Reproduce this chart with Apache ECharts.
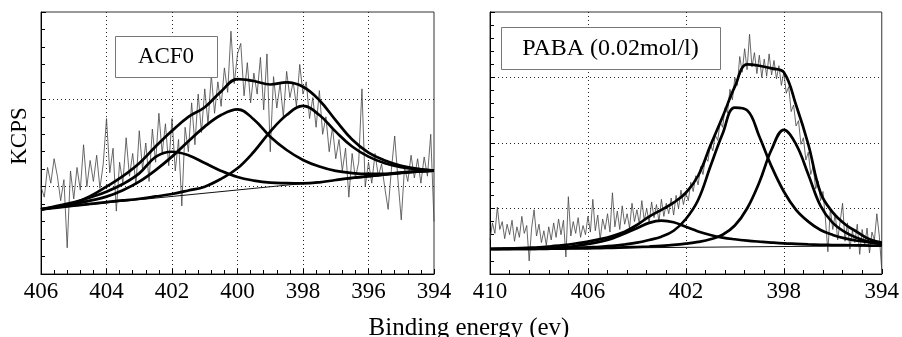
<!DOCTYPE html>
<html><head><meta charset="utf-8">
<script src="https://cdn.jsdelivr.net/npm/echarts@6/dist/echarts.min.js"></script>
<style>html,body{margin:0;padding:0;background:#fff}#c{width:902px;height:337px}</style>
</head><body><div id="c"></div>
<script>
const FONT = '"Liberation Serif","Times New Roman",serif';

// ---------- Left panel: ACF0 (x from 406 down to 394) ----------
const acfTicks = [406, 404, 402, 400, 398, 396, 394];
const acfRawStart = 406, acfRawStep = -0.1;
const acfRaw = [5.0,4.4,6.1,5.2,6.6,5.6,4.2,5.4,1.5,5.9,
  4.3,6.1,4.8,7.4,5.0,6.5,5.3,6.8,4.9,6.3,
  8.9,5.8,7.2,3.6,6.4,5.2,7.8,5.6,6.9,5.1,
  8.2,6.0,7.5,5.3,8.3,6.4,9.2,6.9,8.6,6.2,
  8.9,5.9,7.7,3.9,8.4,7.0,9.8,7.4,10.3,8.1,
  10.6,8.6,11.4,9.2,11.0,9.6,11.8,10.4,13.9,10.9,
  12.6,13.2,10.2,12.1,9.8,11.5,10.3,12.4,9.4,12.6,
  7.0,11.3,9.5,10.9,9.0,11.6,10.1,11.0,9.6,12.0,
  10.3,11.0,8.9,10.1,8.4,10.5,8.0,9.0,7.0,8.4,
  6.6,7.7,5.9,7.2,4.4,6.9,5.5,6.4,10.6,5.0,
  6.4,5.2,6.9,5.6,6.3,4.9,3.7,6.0,7.9,5.4,
  3.1,6.1,5.3,6.8,5.5,6.6,5.2,6.7,5.6,8.0,3.0];
const acfFitStart = 406, acfFitStep = -0.5;
const acfEnvelope = [3.70,3.85,4.05,4.45,5.0,5.6,6.34,7.3,8.2,9.0,9.55,10.45,11.16,11.05,10.85,10.97,10.72,9.95,8.8,7.7,6.95,6.5,6.2,6.02,5.92];
const acfPeak402 = [3.70,3.9,4.1,4.38,4.71,5.15,5.76,6.7,7.0,6.8,6.35,5.9,5.55,5.35,5.23,5.2,5.19,5.25,5.38,5.5,5.6,5.7,5.8,5.87,5.92];
const acfPeak400 = [3.70,3.85,4.0,4.2,4.43,4.8,5.29,5.95,6.72,7.6,8.44,9.1,9.43,8.85,7.86,7.1,6.53,6.15,5.9,5.78,5.73,5.74,5.8,5.86,5.92];
const acfPeak398 = [3.70,3.80,3.91,4.01,4.12,4.21,4.31,4.44,4.58,4.78,5.0,5.45,6.05,7.0,8.15,9.1,9.62,9.1,8.15,7.3,6.72,6.34,6.12,6.0,5.92];
const acfBaseline = [[406, 3.70], [394, 5.92]];

// ---------- Right panel: PABA (x from 410 down to 394) ----------
const pabaTicks = [410, 406, 402, 398, 394];
const pabaRawStart = 410, pabaRawStep = -0.1;
const pabaRaw = [2.6,3.9,3.1,5.1,3.4,4.0,2.7,3.8,3.0,4.1,
  2.5,3.6,2.8,4.4,3.1,3.7,1.0,3.5,4.9,2.9,
  3.8,2.4,3.3,2.2,3.6,2.6,3.9,2.8,4.2,3.0,
  4.1,1.3,5.9,2.9,4.0,3.1,4.3,2.8,3.7,3.0,
  4.4,3.2,5.7,3.3,4.5,2.6,4.2,3.4,4.6,3.2,
  6.2,3.6,4.8,3.4,5.2,3.8,4.6,3.5,5.4,4.0,
  4.9,3.8,5.6,4.1,5.0,3.9,5.5,4.3,5.3,4.0,
  5.7,4.4,5.4,4.6,5.8,4.5,6.0,5.0,6.4,5.3,
  6.2,5.6,7.0,6.3,7.5,6.8,8.2,7.6,8.9,8.6,
  9.9,9.4,10.6,10.2,11.6,11.2,12.7,12.3,14.1,13.3,
  15.0,14.4,16.6,15.4,17.2,15.6,18.3,15.8,16.9,15.3,
  16.7,15.0,16.4,15.1,16.8,15.2,16.3,14.9,15.9,14.4,
  15.4,13.8,14.3,12.4,12.9,11.3,11.7,9.9,10.4,8.7,
  9.3,7.6,8.2,6.5,7.1,5.6,6.3,4.2,1.7,5.0,
  3.4,4.6,2.6,4.0,5.4,2.5,3.9,1.9,3.3,2.4,
  3.8,1.5,3.4,2.2,3.5,1.6,3.2,2.6,4.6,2.9,0.3];
const pabaFitStart = 410, pabaFitStep = -0.5;
const pabaEnvelope = [1.91,1.93,1.96,2.0,2.04,2.12,2.21,2.33,2.47,2.66,2.9,3.23,3.74,4.38,4.9,5.45,6.2,7.5,9.8,12.0,14.3,16.0,15.9,15.7,15.4,12.9,9.9,6.2,4.7,3.8,3.2,2.65,2.4];
const pabaPeak403 = [1.91,1.92,1.93,1.94,1.96,2.0,2.04,2.14,2.29,2.47,2.72,3.1,3.49,3.9,4.07,3.95,3.6,3.25,2.98,2.78,2.65,2.55,2.47,2.4,2.34,2.3,2.26,2.23,2.21,2.2,2.19,2.17,2.16];
const pabaPeak400 = [1.91,1.91,1.92,1.92,1.93,1.94,1.96,2.0,2.04,2.08,2.14,2.25,2.39,2.6,2.85,3.3,4.2,5.65,8.2,10.7,12.7,12.5,10.5,8.2,6.3,4.9,4.0,3.36,2.98,2.72,2.54,2.42,2.32];
const pabaPeak398 = [1.91,1.91,1.91,1.92,1.92,1.93,1.94,1.95,1.96,1.98,2.0,2.03,2.06,2.1,2.15,2.22,2.32,2.45,2.65,3.0,3.7,5.0,7.0,9.5,11.0,9.9,7.6,5.2,3.9,3.2,2.75,2.45,2.3];
const pabaBaseline = [[410, 1.91], [394, 2.16]];

function pairs(start, step, ys) {
  return ys.map((v, i) => [+(start + step * i).toFixed(3), v]);
}

const chart = echarts.init(document.getElementById('c'), null, {renderer: 'canvas'});

function xAxisCfg(gi, min, max, interval) {
  return {
    type: 'value', gridIndex: gi, min: min, max: max, interval: interval, inverse: true,
    axisLine: {show: true, onZero: false, lineStyle: {color: '#000', width: 1}},
    axisTick: {show: true, inside: true, length: 5, lineStyle: {color: '#000'}},
    minorTick: {show: true, splitNumber: 5, length: 4, lineStyle: {color: '#000'}},
    splitLine: {show: true, showMinLine: false, showMaxLine: false, lineStyle: {color: '#222', type: [1, 3], width: 1}},
    axisLabel: {show: true, color: '#000', fontFamily: FONT, fontSize: 23, margin: 6, showMinLabel: true, showMaxLabel: true}
  };
}
function yAxisCfg(gi, max) {
  return {
    type: 'value', gridIndex: gi, min: 0, max: max, interval: 5,
    axisLine: {show: true, onZero: false, lineStyle: {color: '#000', width: 1}},
    axisTick: {show: true, inside: true, length: 5, lineStyle: {color: '#000'}},
    minorTick: {show: true, splitNumber: 5, length: 4, lineStyle: {color: '#000'}},
    splitLine: {show: true, showMinLine: false, showMaxLine: false, lineStyle: {color: '#222', type: [1, 3], width: 1}},
    axisLabel: {show: false}
  };
}
function line(gi, data, width, color, smooth, z) {
  return {
    type: 'line', xAxisIndex: gi, yAxisIndex: gi, data: data, showSymbol: false, symbol: 'none',
    smooth: smooth, lineStyle: {width: width, color: color}, z: z, silent: true
  };
}

const option = {
  animation: false,
  backgroundColor: '#fff',
  grid: [
    {left: 41, top: 12, width: 393, height: 262, show: true, borderColor: '#333', borderWidth: 1},
    {left: 490, top: 12, width: 392, height: 262, show: true, borderColor: '#333', borderWidth: 1}
  ],
  xAxis: [xAxisCfg(0, 394, 406, 2), xAxisCfg(1, 394, 410, 4)],
  yAxis: [yAxisCfg(0, 15), yAxisCfg(1, 20)],
  series: [
    line(0, pairs(acfRawStart, acfRawStep, acfRaw), 0.8, '#444', false, 2),
    line(0, acfBaseline, 1, '#111', false, 3),
    line(0, pairs(acfFitStart, acfFitStep, acfPeak402), 2.7, '#000', 0.4, 4),
    line(0, pairs(acfFitStart, acfFitStep, acfPeak400), 2.7, '#000', 0.4, 4),
    line(0, pairs(acfFitStart, acfFitStep, acfPeak398), 2.7, '#000', 0.4, 4),
    line(0, pairs(acfFitStart, acfFitStep, acfEnvelope), 2.7, '#000', 0.4, 4),
    line(1, pairs(pabaRawStart, pabaRawStep, pabaRaw), 0.8, '#444', false, 2),
    line(1, pabaBaseline, 1, '#111', false, 3),
    line(1, pairs(pabaFitStart, pabaFitStep, pabaPeak403), 2.7, '#000', 0.4, 4),
    line(1, pairs(pabaFitStart, pabaFitStep, pabaPeak400), 2.7, '#000', 0.4, 4),
    line(1, pairs(pabaFitStart, pabaFitStep, pabaPeak398), 2.7, '#000', 0.4, 4),
    line(1, pairs(pabaFitStart, pabaFitStep, pabaEnvelope), 2.7, '#000', 0.4, 4)
  ],
  graphic: [
    {type: 'rect', z: 100, shape: {x: 115.5, y: 36.5, width: 102, height: 41},
      style: {fill: '#fff', stroke: '#777', lineWidth: 1}},
    {type: 'text', z: 101, x: 166, y: 57,
      style: {text: 'ACF0', font: '23px ' + FONT, fill: '#000', align: 'center', verticalAlign: 'middle'}},
    {type: 'rect', z: 100, shape: {x: 501.5, y: 27.5, width: 219, height: 42},
      style: {fill: '#fff', stroke: '#777', lineWidth: 1}},
    {type: 'text', z: 101, x: 610.5, y: 49,
      style: {text: 'PABA (0.02mol/l)', font: '24px ' + FONT, fill: '#000', align: 'center', verticalAlign: 'middle'}},
    {type: 'text', z: 101, x: 20, y: 136, rotation: Math.PI / 2,
      style: {text: 'KCPS', font: '23px ' + FONT, fill: '#000', align: 'center', verticalAlign: 'middle'}},
    {type: 'text', z: 101, x: 469, y: 328,
      style: {text: 'Binding energy (ev)', font: '25px ' + FONT, fill: '#000', align: 'center', verticalAlign: 'middle'}}
  ]
};
chart.setOption(option);
</script>
</body></html>
